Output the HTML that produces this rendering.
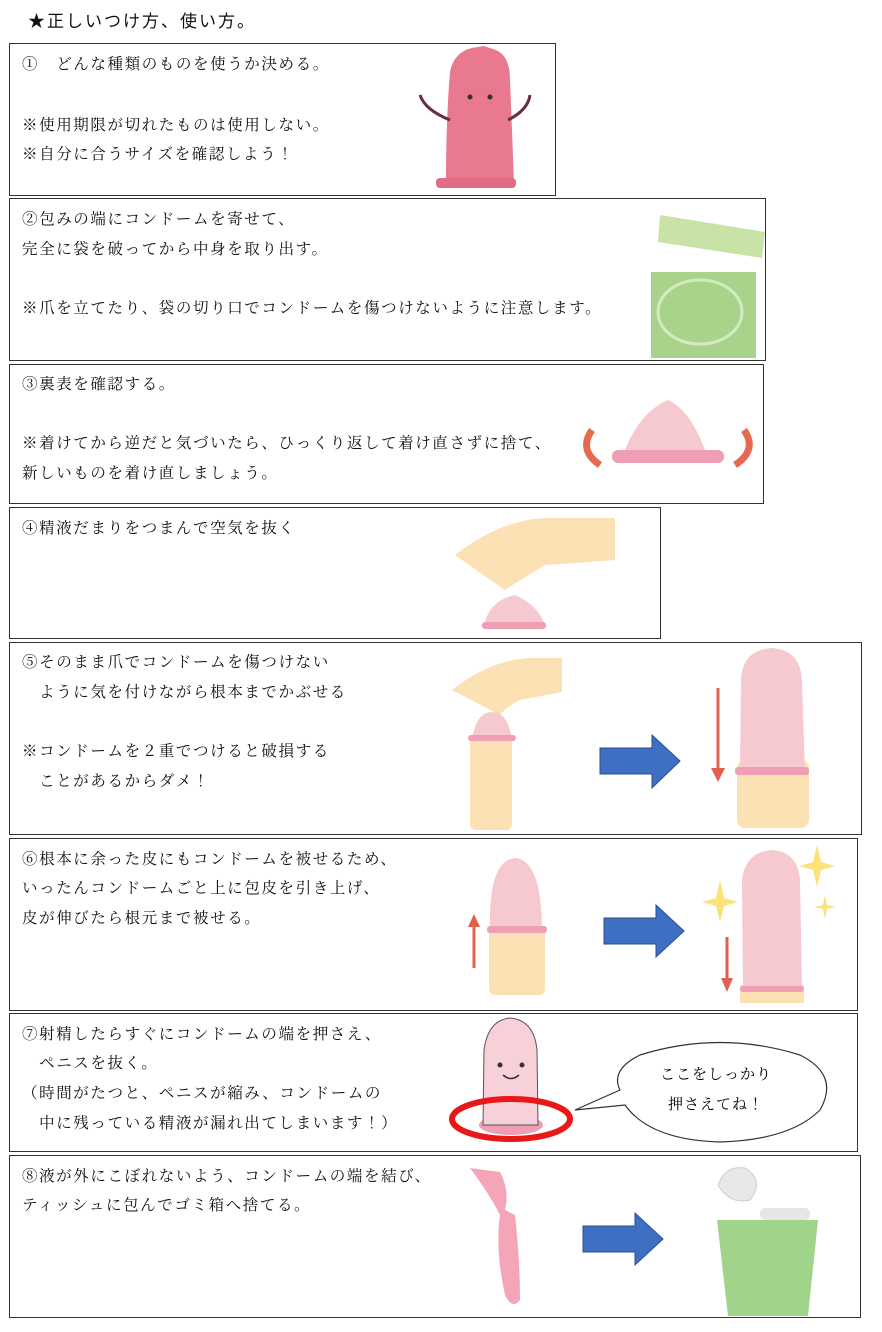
<!DOCTYPE html>
<html><head><meta charset="utf-8"><style>
body{margin:0;width:882px;height:1332px;background:#fff;position:relative;overflow:hidden;font-family:"Liberation Serif","Noto Serif CJK JP","Noto Serif CJK SC",serif;font-size:15.5px;letter-spacing:1.6px;color:#111}
.b{position:absolute;border:1px solid #333;box-sizing:border-box}
.t{position:absolute;white-space:nowrap;line-height:18px}
svg{position:absolute;left:0;top:0;letter-spacing:1px}
</style></head><body>
<div class="t" style="left:28px;top:13px;font-family:'Liberation Sans','Noto Sans CJK JP',sans-serif;font-size:17px;letter-spacing:2px">★正しいつけ方、使い方。</div>
<div class="b" style="left:9px;top:43px;width:547px;height:153px"></div>
<div class="b" style="left:9px;top:198px;width:757px;height:163px"></div>
<div class="b" style="left:9px;top:364px;width:755px;height:140px"></div>
<div class="b" style="left:9px;top:507px;width:652px;height:132px"></div>
<div class="b" style="left:9px;top:642px;width:853px;height:193px"></div>
<div class="b" style="left:9px;top:838px;width:849px;height:173px"></div>
<div class="b" style="left:9px;top:1013px;width:849px;height:139px"></div>
<div class="b" style="left:9px;top:1155px;width:852px;height:163px"></div>

<div class="t" style="left:22px;top:56px">①　どんな種類のものを使うか決める。</div>
<div class="t" style="left:22px;top:117px">※使用期限が切れたものは使用しない。</div>
<div class="t" style="left:22px;top:146px">※自分に合うサイズを確認しよう！</div>

<div class="t" style="left:22px;top:211px">②包みの端にコンドームを寄せて、</div>
<div class="t" style="left:22px;top:241px">完全に袋を破ってから中身を取り出す。</div>
<div class="t" style="left:22px;top:300px">※爪を立てたり、袋の切り口でコンドームを傷つけないように注意します。</div>

<div class="t" style="left:22px;top:376px">③裏表を確認する。</div>
<div class="t" style="left:22px;top:435px">※着けてから逆だと気づいたら、ひっくり返して着け直さずに捨て、</div>
<div class="t" style="left:22px;top:465px">新しいものを着け直しましょう。</div>

<div class="t" style="left:22px;top:520px">④精液だまりをつまんで空気を抜く</div>

<div class="t" style="left:22px;top:654px">⑤そのまま爪でコンドームを傷つけない</div>
<div class="t" style="left:22px;top:684px">　ように気を付けながら根本までかぶせる</div>
<div class="t" style="left:22px;top:743px">※コンドームを２重でつけると破損する</div>
<div class="t" style="left:22px;top:773px">　ことがあるからダメ！</div>

<div class="t" style="left:22px;top:851px">⑥根本に余った皮にもコンドームを被せるため、</div>
<div class="t" style="left:22px;top:880px">いったんコンドームごと上に包皮を引き上げ、</div>
<div class="t" style="left:22px;top:910px">皮が伸びたら根元まで被せる。</div>

<div class="t" style="left:22px;top:1026px">⑦射精したらすぐにコンドームの端を押さえ、</div>
<div class="t" style="left:22px;top:1055px">　ペニスを抜く。</div>
<div class="t" style="left:22px;top:1085px">（時間がたつと、ペニスが縮み、コンドームの</div>
<div class="t" style="left:22px;top:1115px">　中に残っている精液が漏れ出てしまいます！）</div>

<div class="t" style="left:22px;top:1168px">⑧液が外にこぼれないよう、コンドームの端を結び、</div>
<div class="t" style="left:22px;top:1197px">ティッシュに包んでゴミ箱へ捨てる。</div>

<svg width="882" height="1332" viewBox="0 0 882 1332">
<!-- 1 -->
<path d="M446 183 Q446 120 450 72 Q454 52 472 48 L484 46 L496 50 Q510 56 510 80 Q512 130 514 183 Z" fill="#e8798f"/>
<rect x="436" y="178" width="80" height="10" rx="4" fill="#e06c86"/>
<path d="M450 120 Q425 110 420 95" stroke="#6a2e3e" stroke-width="3" fill="none"/>
<path d="M508 120 Q528 110 530 95" stroke="#6a2e3e" stroke-width="3" fill="none"/>
<circle cx="470" cy="97" r="2.5" fill="#333"/><circle cx="490" cy="97" r="2.5" fill="#333"/>
<!-- 2 -->
<path d="M660 215 L765 232 L762 258 L658 242 Z" fill="#c9e3a6"/>
<rect x="651" y="272" width="105" height="86" fill="#a9d38a"/>
<ellipse cx="700" cy="312" rx="42" ry="32" fill="none" stroke="#d3ebc0" stroke-width="3"/>
<!-- 3 -->
<path d="M625 450 Q640 412 668 400 Q690 410 705 450 Z" fill="#f6c8cf"/>
<rect x="612" y="450" width="112" height="13" rx="6" fill="#ef9fb3"/>
<path d="M600 465 Q578 450 592 430" stroke="#e66a50" stroke-width="7" fill="none"/>
<path d="M735 465 Q758 450 744 430" stroke="#e66a50" stroke-width="7" fill="none"/>
<!-- 4 -->
<path d="M455 555 Q500 520 545 518 L615 518 L615 560 L545 565 Q520 580 505 590 Z" fill="#fbe1b4"/>
<path d="M484 625 Q490 600 515 595 Q538 605 545 625 Z" fill="#f6c8cf"/>
<rect x="482" y="622" width="64" height="7" rx="3" fill="#ef9fb3"/>
<!-- 5 -->
<path d="M452 690 Q490 660 530 658 L562 658 L562 692 L520 700 Q505 708 500 715 Z" fill="#fbe1b4"/>
<rect x="470" y="735" width="42" height="95" rx="6" fill="#fbe1b4"/>
<path d="M472 740 Q476 712 492 712 Q508 712 512 740 Z" fill="#f6c8cf"/>
<rect x="468" y="735" width="48" height="6" rx="3" fill="#ef9fb3"/>
<path d="M600 748 L652 748 L652 735 L680 761 L652 788 L652 774 L600 774 Z" fill="#3f6fc2" stroke="#2a4f8e"/>
<line x1="718" y1="688" x2="718" y2="770" stroke="#e06050" stroke-width="3"/>
<path d="M711 768 L718 782 L725 768 Z" fill="#e06050"/>
<rect x="737" y="760" width="72" height="68" rx="8" fill="#fbe1b4"/>
<path d="M740 775 L741 680 Q742 650 772 648 Q800 650 802 680 L805 775 Z" fill="#f6c8cf"/>
<rect x="735" y="767" width="74" height="8" rx="3" fill="#ef9fb3"/>
<!-- 6 -->
<rect x="489" y="925" width="56" height="70" rx="6" fill="#fbe1b4"/>
<path d="M490 932 Q488 860 515 858 Q542 860 542 932 Z" fill="#f6c8cf"/>
<rect x="487" y="926" width="60" height="7" rx="3" fill="#ef9fb3"/>
<line x1="474" y1="925" x2="474" y2="968" stroke="#e06050" stroke-width="3"/>
<path d="M468 927 L474 914 L480 927 Z" fill="#e06050"/>
<path d="M604 918 L656 918 L656 905 L684 931 L656 957 L656 944 L604 944 Z" fill="#3f6fc2" stroke="#2a4f8e"/>
<line x1="727" y1="937" x2="727" y2="980" stroke="#e06050" stroke-width="3"/>
<path d="M721 978 L727 992 L733 978 Z" fill="#e06050"/>
<rect x="740" y="985" width="64" height="18" fill="#fbe1b4"/>
<path d="M743 990 L742 880 Q745 852 772 850 Q798 852 800 880 L802 990 Z" fill="#f6c8cf"/>
<rect x="740" y="986" width="64" height="6" rx="3" fill="#ef9fb3"/>
<path d="M817 845 L821 862 L835 866 L821 870 L817 887 L813 870 L799 866 L813 862 Z" fill="#fbe27a"/>
<path d="M720 880 L724 898 L738 902 L724 906 L720 922 L716 906 L702 902 L716 898 Z" fill="#fbe27a"/>
<path d="M825 895 L827 905 L836 907 L827 909 L825 919 L823 909 L814 907 L823 905 Z" fill="#fbe27a"/>
<!-- 7 -->
<ellipse cx="511" cy="1125" rx="32" ry="10" fill="#ef9fb3"/>
<path d="M483 1125 L484 1050 Q488 1020 510 1018 Q534 1020 537 1050 L538 1125 Z" fill="#f8d0d8" stroke="#555" stroke-width="1"/>
<circle cx="500" cy="1065" r="2.5" fill="#333"/><circle cx="522" cy="1065" r="2.5" fill="#333"/>
<path d="M503 1075 Q511 1082 519 1075" stroke="#333" stroke-width="1.5" fill="none"/>
<ellipse cx="511" cy="1119" rx="59" ry="20" fill="none" stroke="#e81818" stroke-width="6"/>
<path d="M575 1110 L620 1090 Q610 1070 640 1055 Q720 1030 800 1055 Q840 1075 820 1110 Q790 1140 720 1142 Q650 1140 625 1105 Z" fill="#fff" stroke="#333" stroke-width="1.2"/>
<text x="660" y="1079" font-size="15" font-family="Liberation Serif,Noto Serif CJK JP,serif">ここをしっかり</text>
<text x="668" y="1109" font-size="15" font-family="Liberation Serif,Noto Serif CJK JP,serif">押さえてね！</text>
<!-- 8 -->
<path d="M470 1168 L500 1172 Q510 1190 505 1210 L515 1215 Q520 1260 520 1300 Q512 1310 505 1295 Q495 1250 500 1215 Q490 1195 470 1168 Z" fill="#f4a6b8"/>
<path d="M583 1226 L635 1226 L635 1213 L663 1239 L635 1265 L635 1252 L583 1252 Z" fill="#3f6fc2" stroke="#2a4f8e"/>
<path d="M718 1185 Q725 1165 745 1168 Q765 1180 750 1200 Q730 1205 718 1185 Z" fill="#e8e8e8" stroke="#ccc"/>
<rect x="760" y="1208" width="50" height="12" rx="5" fill="#e6e6e6"/>
<path d="M717 1220 L818 1220 L808 1316 L728 1316 Z" fill="#9fd48a"/>
</svg>
</body></html>
